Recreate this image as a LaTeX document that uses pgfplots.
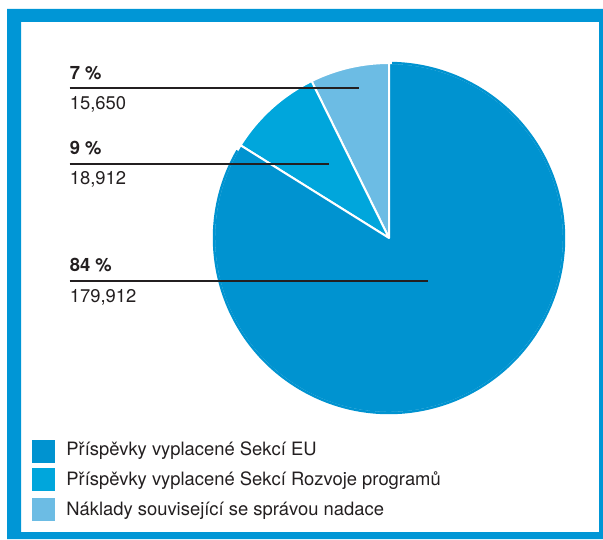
\documentclass[border=0pt]{standalone}
\usepackage{pgfplots}
\usepackage{pgfplotstable}
\pgfplotsset{compat=1.18}
\usepackage{fontspec}
\setmainfont{TeX Gyre Heros}
\definecolor{cEU}{HTML}{0093D0}
\definecolor{cRP}{HTML}{00A6DC}
\definecolor{cNS}{HTML}{6CBCE4}
\definecolor{frame}{HTML}{0096D6}
\definecolor{txt}{HTML}{231F20}
\pgfplotstableread{
label value pct
NS 15650 7
RP 18912 9
EU 179912 84
}\piedata
\pgfplotstablegetelem{0}{value}\of\piedata \edef\vA{\pgfplotsretval}
\pgfplotstablegetelem{1}{value}\of\piedata \edef\vB{\pgfplotsretval}
\pgfplotstablegetelem{2}{value}\of\piedata \edef\vC{\pgfplotsretval}
\edef\tot{\fpeval{\vA+\vB+\vC}}
\edef\aA{\fpeval{90+360*\vA/\tot}}
\edef\aB{\fpeval{\aA+360*\vB/\tot}}
\edef\aC{\fpeval{\aB+360*\vC/\tot}}
\def\R{87.5pt}
\begin{document}
\begin{tikzpicture}
\begin{axis}[width=301.5pt,height=269.5pt,scale only axis,
  xmin=0,xmax=603,ymin=0,ymax=539,y dir=reverse,hide axis,clip=false]
\path (axis cs:0,0) rectangle (axis cs:603,539);
% frame
\fill[frame,even odd rule] (axis cs:7,9) rectangle (axis cs:603,539)
  (axis cs:21,22) rectangle (axis cs:599,532);
% pie
\fill[cNS,draw=white,line width=1pt,line join=round] (axis cs:389,238) -- ++(90:\R) arc[start angle=90,end angle=\aA,radius=\R] -- cycle;
\fill[cRP,draw=white,line width=1pt,line join=round] (axis cs:389,238) -- ++(\aA:\R) arc[start angle=\aA,end angle=\aB,radius=\R] -- cycle;
\fill[cEU,draw=white,line width=1pt,line join=round] (axis cs:389,238) -- ++(\aB:\R) arc[start angle=\aB,end angle=\aC,radius=\R] -- cycle;
\draw[cEU,line width=1.2pt] (axis cs:389,238) ++(\aB+2:\R) arc[start angle=\aB+2,end angle=\aC-1,radius=\R];
% label lines
\draw[txt,line width=1.1pt] (axis cs:69.5,88.3) -- (axis cs:359,88.3);
\draw[txt,line width=1.1pt] (axis cs:69.5,164) -- (axis cs:329,164);
\draw[txt,line width=1.1pt] (axis cs:69.5,281) -- (axis cs:428,281);
\begin{scope}[every node/.style={anchor=base west,inner sep=0pt,text=txt,font=\fontsize{9.2}{11}\selectfont}]
\node[font=\fontsize{9.2}{11}\selectfont\bfseries] at (axis cs:69.5,79.3) {7 \%};
\node at (axis cs:69.5,109.3) {15,650};
\node[font=\fontsize{9.2}{11}\selectfont\bfseries] at (axis cs:69.5,154.3) {9 \%};
\node at (axis cs:69.5,185) {18,912};
\node[font=\fontsize{9.2}{11}\selectfont\bfseries] at (axis cs:69.5,271.7) {84 \%};
\node at (axis cs:69.5,302) {179,912};
% legend
\fill[cEU] (axis cs:32,440) rectangle (axis cs:55,463);
\fill[cRP] (axis cs:32,468) rectangle (axis cs:55,491);
\fill[cNS] (axis cs:32,498) rectangle (axis cs:55,521);
\node at (axis cs:66,455.5) {Příspěvky vyplacené Sekcí EU};
\node at (axis cs:66,485) {Příspěvky vyplacené Sekcí Rozvoje programů};
\node at (axis cs:66,515) {Náklady související se správou nadace};
\end{scope}
\end{axis}
\end{tikzpicture}
\end{document}
